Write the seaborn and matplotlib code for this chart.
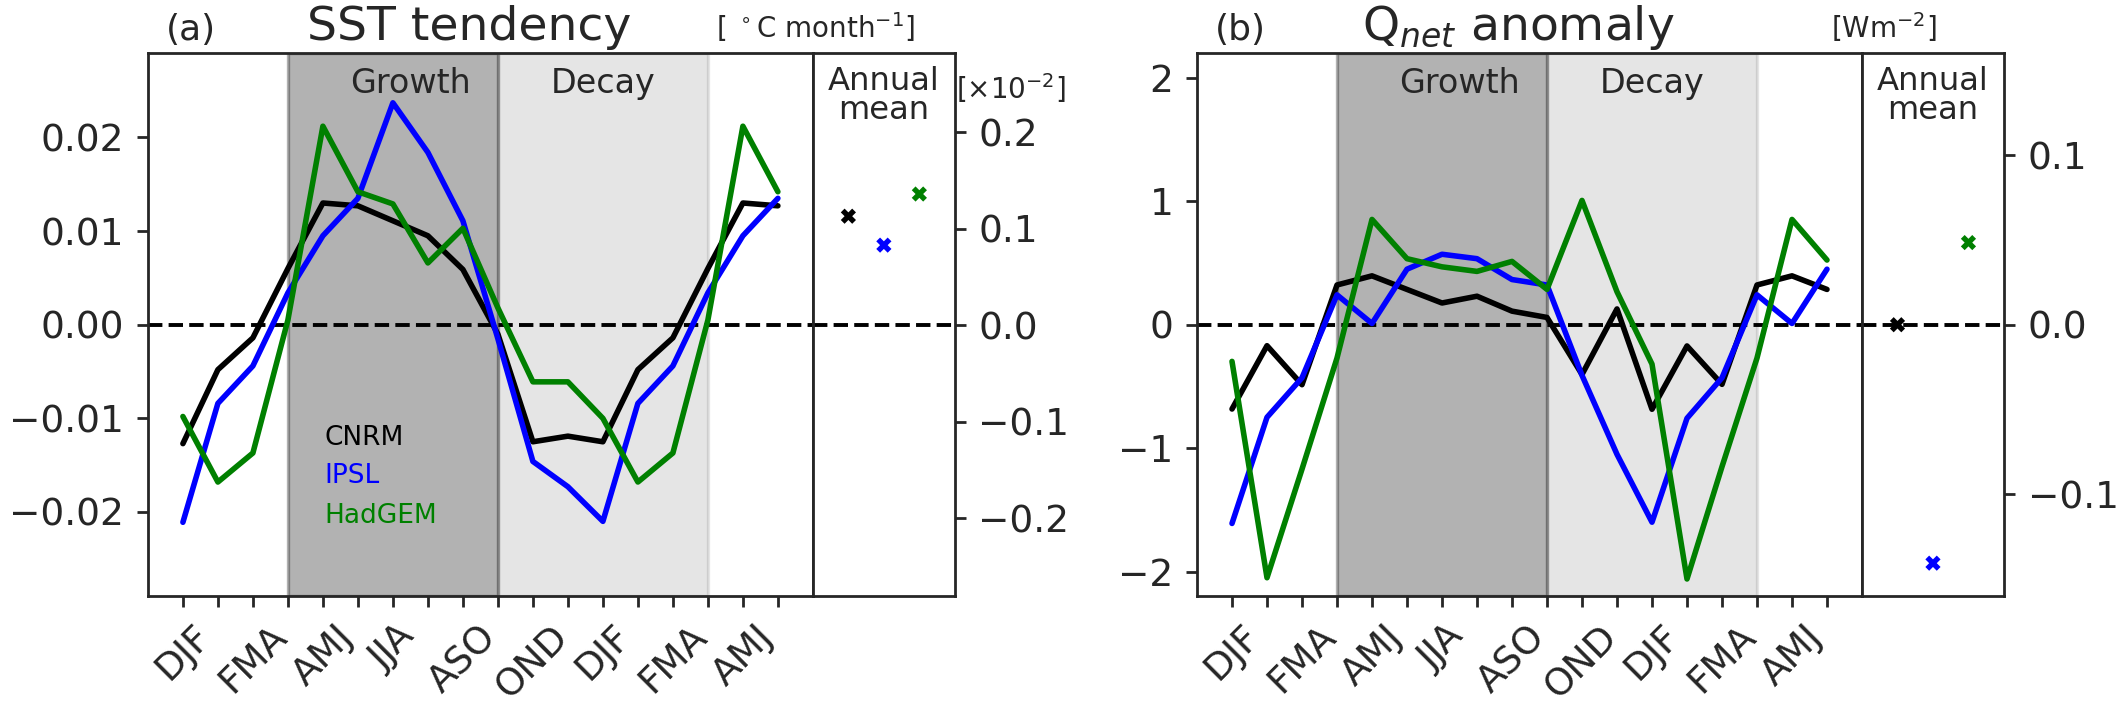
import numpy as np
import pandas as pd
import matplotlib
matplotlib.use("Agg")
import matplotlib.pyplot as plt
import seaborn as sns

# Seasons (running 3-month means), 18 points
SEASONS = ["DJF", "JFM", "FMA", "MAM", "AMJ", "MJJ", "JJA", "JAS", "ASO",
           "SON", "OND", "NDJ", "DJF", "JFM", "FMA", "MAM", "AMJ", "MJJ"]
TICK_LABELS = [s if i % 2 == 0 else "" for i, s in enumerate(SEASONS)]
MODELS = ["CNRM", "IPSL", "HadGEM"]
COLORS = ["black", "blue", "green"]

# (a) SST tendency [degC / month]
sst_cnrm = [-0.0127, -0.0048, -0.0014, 0.0060, 0.0130, 0.0127, 0.0111, 0.0095, 0.0059,
            -0.0010, -0.0125, -0.0119, -0.0125, -0.0048, -0.0014, 0.0060, 0.0130, 0.0127]
sst_ipsl = [-0.0211, -0.0084, -0.0044, 0.0034, 0.0095, 0.0135, 0.0237, 0.0184, 0.0111,
            -0.0015, -0.0146, -0.0173, -0.0210, -0.0084, -0.0044, 0.0034, 0.0095, 0.0135]
sst_hadgem = [-0.0098, -0.0168, -0.0137, 0.0005, 0.0212, 0.0142, 0.0129, 0.0066, 0.0103,
              0.0018, -0.0061, -0.0061, -0.0100, -0.0168, -0.0137, 0.0005, 0.0212, 0.0142]
sst_annual = [0.113, 0.083, 0.136]  # x 10^-2

# (b) Qnet anomaly [W m-2]
qnet_cnrm = [-0.683, -0.170, -0.486, 0.322, 0.396, 0.286, 0.176, 0.231, 0.110,
             0.059, -0.403, 0.128, -0.685, -0.172, -0.483, 0.322, 0.396, 0.286]
qnet_ipsl = [-1.610, -0.750, -0.430, 0.242, 0.010, 0.450, 0.571, 0.535, 0.366,
             0.322, -0.410, -1.050, -1.600, -0.758, -0.430, 0.242, 0.010, 0.450]
qnet_hadgem = [-0.297, -2.050, -1.170, -0.270, 0.853, 0.535, 0.469, 0.432, 0.513,
               0.286, 1.007, 0.267, -0.319, -2.060, -1.150, -0.270, 0.853, 0.524]
qnet_annual = [0.000, -0.1405, 0.0484]

sns.set_style("ticks")
plt.rcParams.update({
    "font.family": ["DejaVu Sans"],
    "font.size": 13.5,
    "axes.linewidth": 1.0,
    "xtick.major.size": 4,
    "ytick.major.size": 4,
    "xtick.major.width": 1.0,
    "ytick.major.width": 1.0,
    "xtick.major.pad": 4,
    "ytick.major.pad": 4.5,
    "xtick.labelsize": 13.5,
    "ytick.labelsize": 13.5,
})

PALETTE = dict(zip(MODELS, COLORS))


def long_frame(series):
    rows = []
    for name, vals in zip(MODELS, series):
        for i, v in enumerate(vals):
            rows.append({"x": i, "value": v, "model": name})
    return pd.DataFrame(rows)


def draw_panel(fig, left, series, annual, ylim, yticks, aylim, ayticks,
               letter, title, units, units_x, legend=False, offset_label=None):
    W_MAIN = 0.3125
    W_ANN = 0.0667
    bottom, height = 0.159, 0.766
    ax = fig.add_axes([left, bottom, W_MAIN, height])
    axm = fig.add_axes([left + W_MAIN, bottom, W_ANN, height])

    ax.axvspan(3, 9, color="k", alpha=0.3, lw=1.2, zorder=0)
    ax.axvspan(9, 15, color="k", alpha=0.1, lw=1.2, zorder=0)
    ax.axhline(0, color="k", ls="--", lw=1.4, zorder=1)

    df = long_frame(series)
    sns.lineplot(data=df, x="x", y="value", hue="model", palette=PALETTE,
                 lw=2.0, legend=False, ax=ax, zorder=3)

    ax.set_xlim(-1, 18)
    ax.set_ylim(*ylim)
    ax.set_yticks(yticks)
    ax.set_xticks(range(len(SEASONS)))
    ax.set_xticklabels(TICK_LABELS, rotation=45)
    ax.set_xlabel("")
    ax.set_ylabel("")

    trans = ax.get_xaxis_transform()
    ax.text(6.5, 0.945, "Growth", transform=trans, ha="center", va="center", fontsize=12)
    ax.text(12, 0.945, "Decay", transform=trans, ha="center", va="center", fontsize=12)

    if legend:
        for name, col, yy in zip(MODELS, COLORS, [-0.0121, -0.0162, -0.0204]):
            ax.text(4.05, yy, name, color=col, fontsize=9.5, ha="left", va="center")

    # annual mean panel
    ann = pd.DataFrame({"x": [1, 2, 3], "value": annual, "model": MODELS})
    sns.scatterplot(data=ann, x="x", y="value", hue="model", palette=PALETTE,
                    marker="X", s=30, linewidth=0, legend=False, ax=axm, zorder=3)
    axm.axhline(0, color="k", ls="--", lw=1.4, zorder=1)
    axm.set_xlim(0, 4)
    axm.set_ylim(*aylim)
    axm.set_yticks(ayticks)
    axm.set_xticks([])
    axm.yaxis.tick_right()
    axm.set_xlabel("")
    axm.set_ylabel("")
    axm.text(0.5, 0.921, "Annual\nmean", transform=axm.transAxes, ha="center",
             va="center", fontsize=11.6, linespacing=0.95)
    if offset_label:
        axm.text(1.01, 0.935, offset_label, transform=axm.transAxes, ha="left",
                 va="center", fontsize=10)

    # titles
    x0 = left
    fig.text(x0 + 0.0085, 0.944, letter, fontsize=13, ha="left", va="baseline")
    fig.text(x0 + 0.151, 0.944, title, fontsize=17, ha="center", va="baseline")
    fig.text(units_x, 0.946, units, fontsize=10, ha="center", va="baseline")
    return ax, axm


fig = plt.figure(figsize=(10.64, 3.545), dpi=200)

draw_panel(fig, 0.0695, [sst_cnrm, sst_ipsl, sst_hadgem], sst_annual,
           (-0.029, 0.029), [-0.02, -0.01, 0.0, 0.01, 0.02],
           (-0.281, 0.282), [-0.2, -0.1, 0.0, 0.1, 0.2],
           "(a)", "SST tendency", r"[ $^\circ$C month$^{-1}$]", 0.383,
           legend=True, offset_label=r"[$\times$10$^{-2}$]")

draw_panel(fig, 0.5625, [qnet_cnrm, qnet_ipsl, qnet_hadgem], qnet_annual,
           (-2.2, 2.2), [-2, -1, 0, 1, 2],
           (-0.16, 0.16), [-0.1, 0.0, 0.1],
           "(b)", r"Q$_{net}$ anomaly", r"[Wm$^{-2}$]", 0.885)

fig.savefig("out.png", dpi=200, facecolor="white")
